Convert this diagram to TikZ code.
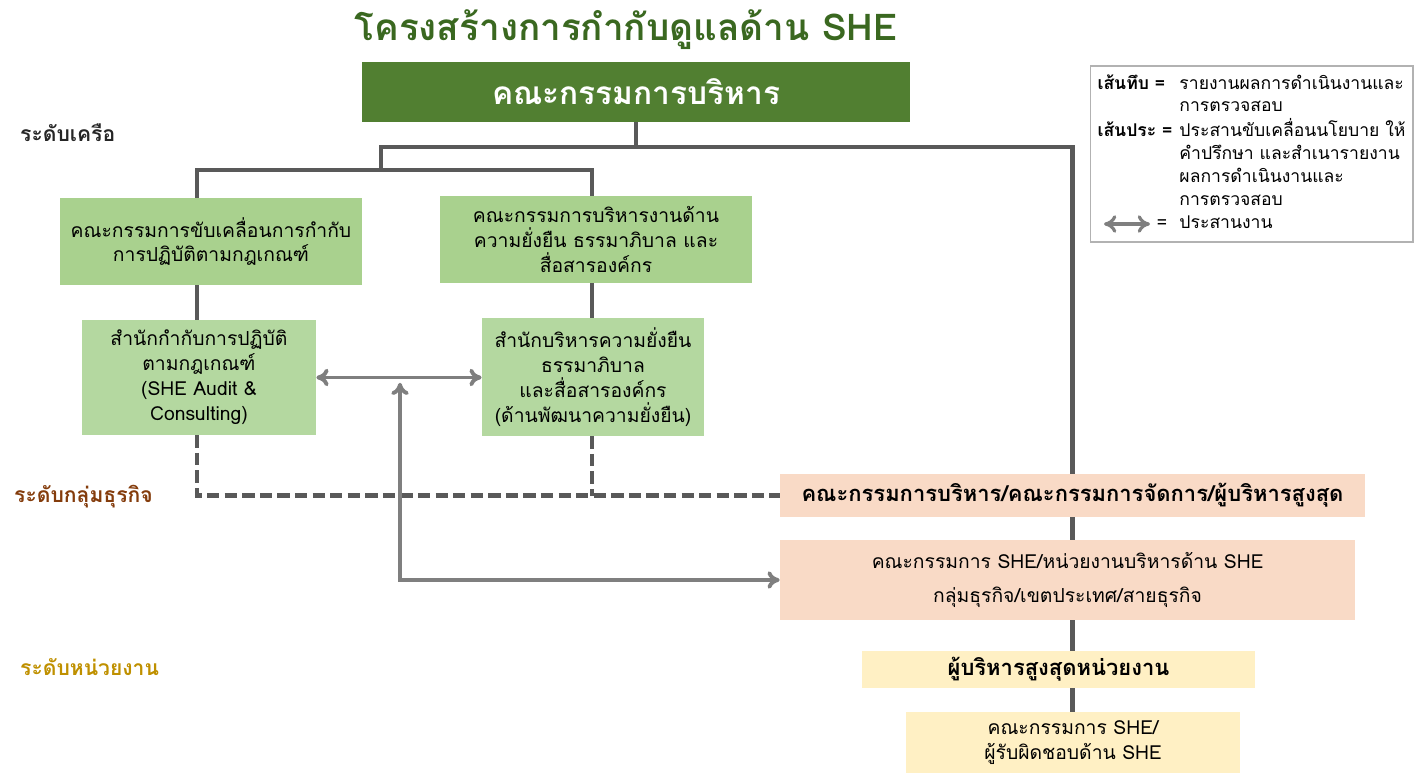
\documentclass[tikz,border=0pt]{standalone}
\usepackage{fontspec}
\setmainfont[Script=Thai]{Loma}
\usetikzlibrary{arrows.meta}
\definecolor{titlegreen}{HTML}{3A6820}
\definecolor{topgreen}{HTML}{517F31}
\definecolor{midgreen}{HTML}{A9D18E}
\definecolor{palegreen}{HTML}{B4D8A0}
\definecolor{peach}{HTML}{F9DAC6}
\definecolor{paleyellow}{HTML}{FFF0C4}
\definecolor{linegray}{HTML}{595959}
\definecolor{arrowgray}{HTML}{7F7F7F}
\definecolor{groupbrown}{HTML}{843C0C}
\definecolor{unitgold}{HTML}{BF9000}
\begin{document}
\begin{tikzpicture}[x=0.02cm,y=-0.02cm,
  box/.style={align=center,inner sep=2pt,font=\fontsize{11}{14.2}\selectfont},
  boldbox/.style={box,font=\fontsize{12.5}{15}\selectfont\bfseries},
  level/.style={anchor=west,font=\fontsize{12}{14}\selectfont\bfseries},
  solid line/.style={draw=linegray,line width=2.6pt},
  dash line/.style={draw=linegray,line width=2.6pt,dash pattern=on 7pt off 3pt},
  coord/.style={draw=arrowgray,line width=2.2pt,arrows={<[length=7pt,width=10pt]->[length=7pt,width=10pt]}}]
\useasboundingbox (0,0) rectangle (1423,773);

\node[font=\fontsize{21}{24}\selectfont\bfseries,text=titlegreen] (title) at (626,30) {โครงสร้างการกำกับดูแลด้าน SHE};
\node[box,fill=topgreen,text=white,font=\fontsize{18}{20}\selectfont\bfseries,minimum width=10.96cm,minimum height=1.2cm] (top) at (636,92) {คณะกรรมการบริหาร};

% group level boxes
\node[box,fill=midgreen,minimum width=6.04cm,minimum height=1.74cm] (drive) at (211,241.5) {คณะกรรมการขับเคลื่อนการกำกับ\\การปฏิบัติตามกฎเกณฑ์};
\node[box,fill=midgreen,minimum width=6.24cm,minimum height=1.74cm] (sust) at (596,239.5) {คณะกรรมการบริหารงานด้าน\\ความยั่งยืน ธรรมาภิบาล และ\\สื่อสารองค์กร};
\node[box,fill=palegreen,minimum width=4.68cm,minimum height=2.3cm] (audit) at (199,377.5) {สำนักกำกับการปฏิบัติ\\ตามกฎเกณฑ์\\(SHE Audit \&\\Consulting)};
\node[box,fill=palegreen,minimum width=4.44cm,minimum height=2.36cm] (office) at (593,377) {สำนักบริหารความยั่งยืน\\ธรรมาภิบาล\\และสื่อสารองค์กร\\(ด้านพัฒนาความยั่งยืน)};

% business level boxes
\node[boldbox,fill=peach,minimum width=11.7cm,minimum height=0.86cm] (bizexec) at (1072.5,495.5) {คณะกรรมการบริหาร/คณะกรรมการจัดการ/ผู้บริหารสูงสุด};
\node[box,fill=peach,font=\fontsize{11}{19}\selectfont,minimum width=11.5cm,minimum height=1.6cm] (bizshe) at (1067.5,580) {คณะกรรมการ SHE/หน่วยงานบริหารด้าน SHE\\กลุ่มธุรกิจ/เขตประเทศ/สายธุรกิจ};
\node[boldbox,fill=paleyellow,minimum width=7.86cm,minimum height=0.74cm] (unitexec) at (1058.5,669.5) {ผู้บริหารสูงสุดหน่วยงาน};
\node[box,fill=paleyellow,minimum width=6.68cm,minimum height=1.22cm] (unitshe) at (1073,742.5) {คณะกรรมการ SHE/\\ผู้รับผิดชอบด้าน SHE};

% level labels
\node[level,text=black!85] (lvlgroup) at (14,133) {ระดับเครือ};
\node[level,text=groupbrown] (lvlbiz) at (8,497) {ระดับกลุ่มธุรกิจ};
\node[level,text=unitgold] (lvlunit) at (14,667) {ระดับหน่วยงาน};

% legend
\node[draw=black!30,line width=0.6pt,minimum width=6.46cm,minimum height=3.52cm,inner sep=4pt,font=\fontsize{10}{13}\selectfont] (legend) at (1251.5,154)
 {\begin{tabular}{@{}l@{\hspace{4pt}}l@{}}
  \textbf{เส้นทึบ =} & รายงานผลการดำเนินงานและ\\
   & การตรวจสอบ\\
  \textbf{เส้นประ =} & ประสานขับเคลื่อนนโยบาย ให้\\
   & คำปรึกษา และสำเนารายงาน\\
   & ผลการดำเนินงานและ\\
   & การตรวจสอบ\\
  \hfill =\hspace{3pt} & ประสานงาน
 \end{tabular}};
\coordinate (keyl) at (1104,224);
\coordinate (keyr) at (1150,224);
\draw[coord,line width=1.8pt] (keyl) -- (keyr);

% solid lines
\coordinate (split) at (381,147);
\coordinate (fork) at (381,170);
\coordinate (lcol) at (197,0);
\coordinate (rcol) at (592,0);
\draw[solid line] (top.south) -- (top.south |- split);
\draw[solid line] (fork) -- (split) -- (split -| bizexec.north) -- (bizexec.north);
\draw[solid line] (lcol |- drive.north) -- (lcol |- fork) -- (rcol |- fork) -- (rcol |- sust.north);
\draw[solid line] (lcol |- drive.south) -- (lcol |- audit.north);
\draw[solid line] (rcol |- sust.south) -- (rcol |- office.north);
\draw[solid line] (bizexec.south) -- (bizexec.south |- bizshe.north);
\draw[solid line] (bizexec.south |- bizshe.south) -- (bizexec.south |- unitexec.north);
\draw[solid line] (bizexec.south |- unitexec.south) -- (bizexec.south |- unitshe.north);

% dashed lines
\draw[dash line] (lcol |- audit.south) -- (lcol |- bizexec.west) -- (bizexec.west);
\draw[dash line] (rcol |- office.south) -- (rcol |- bizexec.west);

% coordination arrows
\coordinate (bend) at (400,580);
\draw[coord] (audit.east) -- (audit.east -| office.west);
\draw[coord,shorten <=3pt] (bend |- audit.east) -- (bend) -- (bizshe.west);
\end{tikzpicture}
\end{document}
